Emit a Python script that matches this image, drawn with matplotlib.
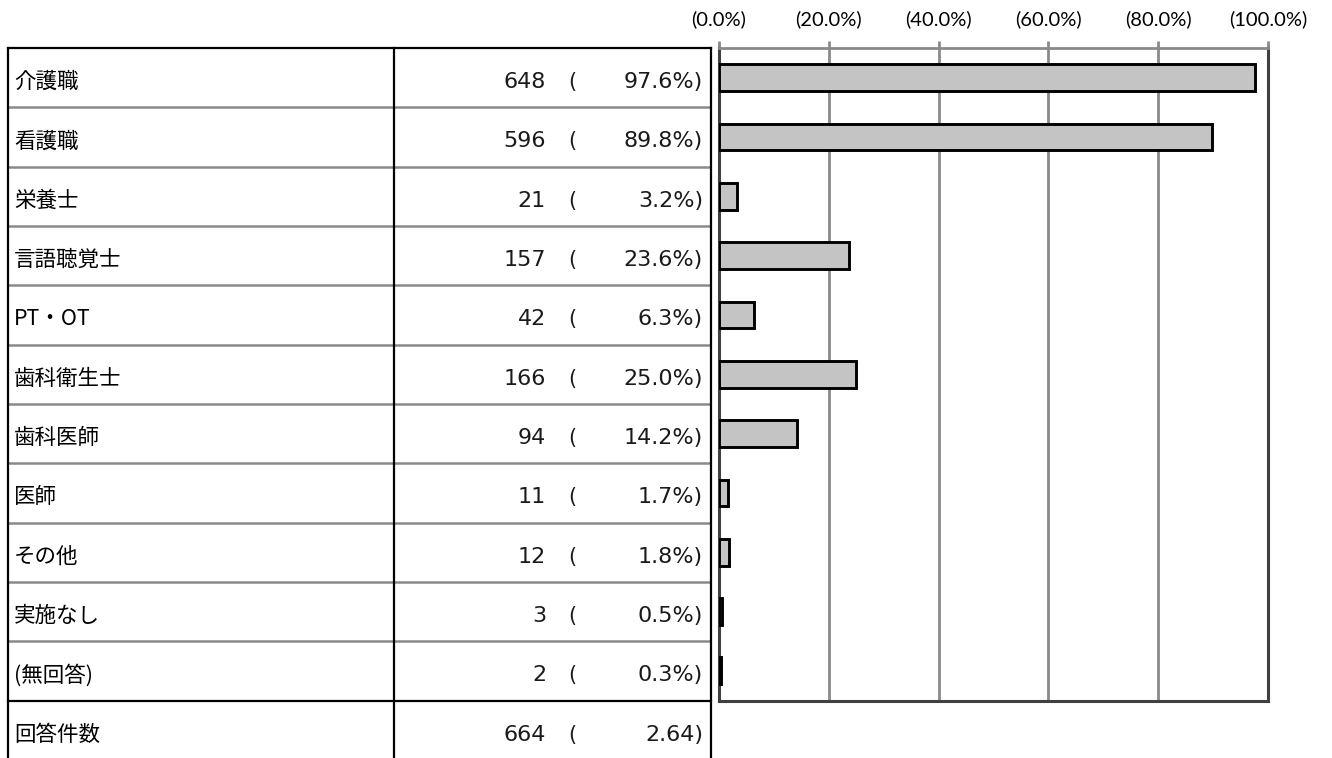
import matplotlib
matplotlib.use("Agg")
import matplotlib.pyplot as plt

# ---- data ----
categories = ['介護職', '看護職', '栄養士', '言語聴覚士', 'PT・OT', '歯科衛生士',
              '歯科医師', '医師', 'その他', '実施なし', '(無回答)']
counts = [648, 596, 21, 157, 42, 166, 94, 11, 12, 3, 2]
percents = [97.6, 89.8, 3.2, 23.6, 6.3, 25.0, 14.2, 1.7, 1.8, 0.5, 0.3]
total_label = '回答件数'
total_count = 664
total_ratio = '2.64'
x_ticks = [0, 20, 40, 60, 80, 100]
x_tick_labels = ['(0.0%)', '(20.0%)', '(40.0%)', '(60.0%)', '(80.0%)', '(100.0%)']

# ---- layout (pixels) ----
W, H = 1332, 758
TOP = 48.0
BOTTOM_CHART = 700.5
n = len(categories)
ROW_H = (BOTTOM_CHART - TOP) / n
X_L, X_MID, X_R = 8, 394, 711
CH_L, CH_R = 719, 1268

JP = ['Noto Sans CJK JP', 'DejaVu Sans']
NUM = ['DejaVu Sans']

fig = plt.figure(figsize=(W / 100, H / 100), dpi=100)

# table axes in pixel coordinates
tab = fig.add_axes([0, 0, 1, 1])
tab.set_xlim(0, W)
tab.set_ylim(H, 0)
tab.axis('off')

# row dividers
for i in range(1, n):
    y = TOP + i * ROW_H
    tab.plot([X_L, X_R], [y, y], color='#8a8a8a', lw=1.8, solid_capstyle='butt', zorder=1)
tab.plot([X_L, X_R], [TOP, TOP], color='black', lw=1.6, zorder=2)
tab.plot([X_L, X_R], [BOTTOM_CHART, BOTTOM_CHART], color='black', lw=1.6, zorder=2)
for x in (X_L, X_MID, X_R):
    tab.plot([x, x], [TOP, H], color='black', lw=1.6, zorder=2)

rows = list(zip(categories, counts, [f'{p:.1f}%)' for p in percents]))
rows.append((total_label, total_count, total_ratio + ')'))
for i, (lab, cnt, pct) in enumerate(rows):
    yc = TOP + (i + 0.5) * ROW_H + 4.5
    tab.text(X_L + 6, yc, lab, ha='left', va='center', fontsize=15.5, family=JP)
    tab.text(546, yc, str(cnt), ha='right', va='center', fontsize=16, family=NUM,
             color='#1a1a1a')
    tab.text(572, yc, '(', ha='center', va='center', fontsize=15, family=NUM,
             color='#1a1a1a')
    tab.text(703, yc, pct, ha='right', va='center', fontsize=16, family=NUM,
             color='#1a1a1a')

# bar chart axes
ax = fig.add_axes([CH_L / W, (H - BOTTOM_CHART) / H, (CH_R - CH_L) / W,
                   (BOTTOM_CHART - TOP) / H])
ypos = list(range(n))
ax.barh(ypos, percents, height=0.45, color='#c4c4c4', edgecolor='black',
        linewidth=2.1, zorder=3)
ax.set_xlim(0, 100)
ax.set_ylim(n - 0.5, -0.5)
ax.set_yticks([])
ax.xaxis.tick_top()
ax.set_xticks(x_ticks)
ax.set_xticklabels(x_tick_labels, family=['Lato', 'DejaVu Sans'], fontsize=14.5)
ax.tick_params(axis='x', direction='out', length=5, width=2, color='#8a8a8a', pad=9)
for x in x_ticks[1:-1]:
    ax.axvline(x, color='#8a8a8a', lw=2, zorder=1)
ax.spines['top'].set_color('#8a8a8a')
ax.spines['top'].set_linewidth(2)
for s in ('left', 'bottom', 'right'):
    ax.spines[s].set_color('#404040')
    ax.spines[s].set_linewidth(2.2)
ax.set_facecolor('none')

fig.savefig('out.png', dpi=100)
